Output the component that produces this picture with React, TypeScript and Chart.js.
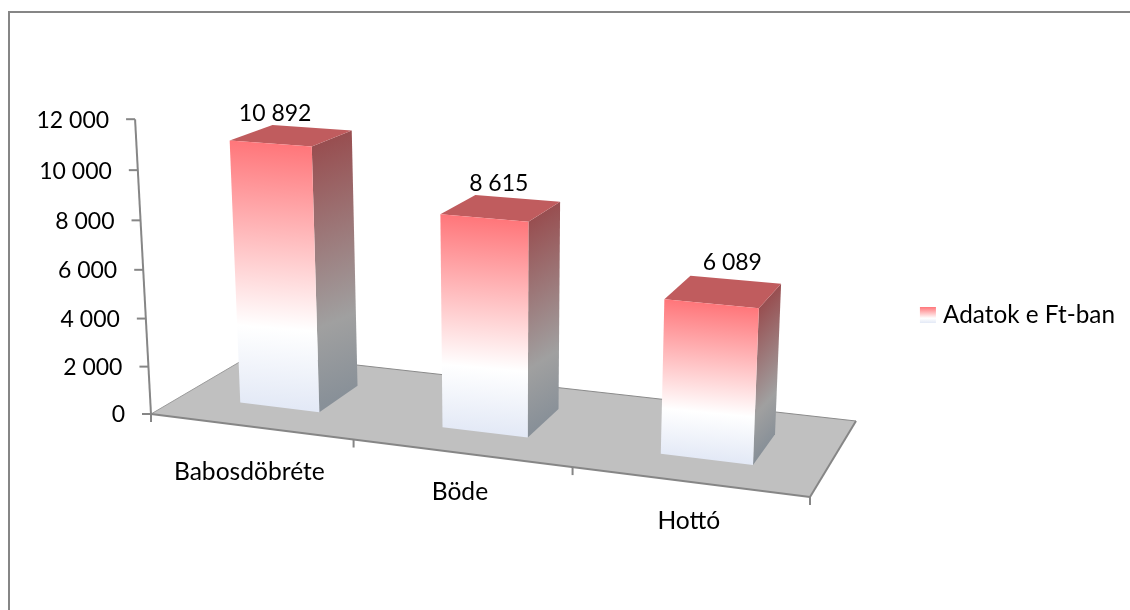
import React, { useEffect, useRef } from "react";
import { Chart, registerables } from "chart.js";

Chart.register(...registerables);

const categories = ["Babosdöbréte", "Böde", "Hottó"];
const values = [10892, 8615, 6089];
const seriesName = "Adatok e Ft-ban";
const axisMax = 12000;
const axisStep = 2000;

// ---- 3D projection set-up (layout only) ----
const FLOOR = { p0: [151, 414], p1: [810, 497], p2: [856, 421], p3: [254, 353.5] };
const VANISH = [508, 7020];
const HEIGHT_K = -3.56e-6;
const DEPTH_FRONT = 0.285;
const DEPTH_BACK = 0.7;
const LABEL_OFFSET = [[-37, -14], [-19, -15], [-3.5, -17]];
const CAT_OFFSET = [[-1, 46], [-1, 39], [0, 39]];
const FONT = "Lato, Carlito, sans-serif";
const FONT_SIZE = 23;
const CAT_FONT_SIZE = 24.6;
const LEGEND_FONT_SIZE = 24.3;
const GREY = "#868686";

type P = [number, number];

function makeProjector() {
  const [x0, y0] = FLOOR.p0, [x1, y1] = FLOOR.p1, [x2, y2] = FLOOR.p2, [x3, y3] = FLOOR.p3;
  const dx1 = x1 - x2, dx2 = x3 - x2, sx = x0 - x1 + x2 - x3;
  const dy1 = y1 - y2, dy2 = y3 - y2, sy = y0 - y1 + y2 - y3;
  const den = dx1 * dy2 - dx2 * dy1;
  const g = (sx * dy2 - dx2 * sy) / den;
  const h = (dx1 * sy - sx * dy1) / den;
  const a1 = x1 - x0 + g * x1, a2 = x3 - x0 + h * x3;
  const b1 = y1 - y0 + g * y1, b2 = y3 - y0 + h * y3;
  return (u: number, d: number, v: number): P => {
    const s = u / categories.length;
    const q = v * HEIGHT_K;
    const w = 1 + g * s + h * d + q;
    return [
      (a1 * s + a2 * d + x0 + q * VANISH[0]) / w,
      (b1 * s + b2 * d + y0 + q * VANISH[1]) / w,
    ];
  };
}

function poly(ctx: CanvasRenderingContext2D, pts: P[], fill: any) {
  ctx.beginPath();
  pts.forEach((p, i) => (i ? ctx.lineTo(p[0], p[1]) : ctx.moveTo(p[0], p[1])));
  ctx.closePath();
  ctx.fillStyle = fill;
  ctx.fill();
}

function seg(ctx: CanvasRenderingContext2D, a: P, b: P, color = GREY, lw = 2) {
  ctx.beginPath();
  ctx.moveTo(a[0], a[1]);
  ctx.lineTo(b[0], b[1]);
  ctx.strokeStyle = color;
  ctx.lineWidth = lw;
  ctx.stroke();
}

function faceGradient(ctx: CanvasRenderingContext2D, ta: P, tb: P, ba: P, bb: P, stops: [number, string][]) {
  const mt: P = [(ta[0] + tb[0]) / 2, (ta[1] + tb[1]) / 2];
  const mb: P = [(ba[0] + bb[0]) / 2, (ba[1] + bb[1]) / 2];
  const ex = tb[0] - ta[0], ey = tb[1] - ta[1];
  const L = Math.hypot(ex, ey) || 1;
  let nx = -ey / L, ny = ex / L;
  if (ny < 0) { nx = -nx; ny = -ny; }
  const len = (mb[0] - mt[0]) * nx + (mb[1] - mt[1]) * ny;
  const gr = ctx.createLinearGradient(mt[0], mt[1], mt[0] + nx * len, mt[1] + ny * len);
  stops.forEach(([o, c]) => gr.addColorStop(o, c));
  return gr;
}

const FRONT_STOPS: [number, string][] = [[0, "#FF767A"], [0.7, "#FFFFFF"], [1, "#E3E9F6"]];
const SIDE_STOPS: [number, string][] = [[0, "#984E50"], [0.7, "#A0A0A0"], [1, "#889098"]];

const scene3d = {
  id: "scene3d",
  beforeDatasetsDraw(chart: any) {
    const ctx = chart.ctx as CanvasRenderingContext2D;
    const project = makeProjector();
    const n = categories.length;
    ctx.save();
    // frame
    ctx.beginPath();
    ctx.moveTo(9, 610);
    ctx.lineTo(9, 12);
    ctx.lineTo(1130, 12);
    ctx.strokeStyle = GREY;
    ctx.lineWidth = 2;
    ctx.stroke();
    // floor
    const c0 = project(0, 0, 0), c1 = project(n, 0, 0), c2 = project(n, 1, 0), c3 = project(0, 1, 0);
    poly(ctx, [c0, c1, c2, c3], "#C0C0C0");
    seg(ctx, c0, c3, "#9A9A9A", 1);
    seg(ctx, c3, c2, "#8A8A8A", 1);
    seg(ctx, c1, c2, GREY, 2);
    seg(ctx, c0, c1, GREY, 2);
    // category ticks
    for (let i = 0; i <= n; i++) {
      const p = project(i, 0, 0);
      seg(ctx, [p[0], p[1]], [p[0], p[1] + 8]);
    }
    // value axis
    const yScale = chart.scales.y;
    seg(ctx, project(0, 0, 0), project(0, 0, axisMax));
    ctx.font = `${FONT_SIZE}px ${FONT}`;
    ctx.fillStyle = "#000";
    ctx.textAlign = "right";
    ctx.textBaseline = "middle";
    yScale.ticks.forEach((t: any) => {
      const p = project(0, 0, t.value);
      seg(ctx, [p[0] - 9, p[1]], p);
      ctx.fillText(fmt(t.value), p[0] - 26, p[1] + 1);
    });
    // category labels
    ctx.font = `${CAT_FONT_SIZE}px ${FONT}`;
    ctx.textAlign = "center";
    categories.forEach((c, i) => {
      const p = project(i + 0.5, 0, 0);
      ctx.fillText(c, p[0] + CAT_OFFSET[i][0], p[1] + CAT_OFFSET[i][1]);
    });
    ctx.restore();
  },
  afterDatasetsDraw(chart: any) {
    const ctx = chart.ctx as CanvasRenderingContext2D;
    const project = makeProjector();
    const meta = chart.getDatasetMeta(0);
    const xs = chart.scales.x, ys = chart.scales.y;
    ctx.save();
    meta.data.forEach((el: any, i: number) => {
      const perCat = xs.width / categories.length;
      const uc = (el.x - xs.left) / perCat;
      const hw = el.width / perCat / 2;
      const v = ys.getValueForPixel(el.y);
      const u0 = uc - hw, u1 = uc + hw;
      const fl = project(u0, DEPTH_FRONT, 0), fr = project(u1, DEPTH_FRONT, 0), br = project(u1, DEPTH_BACK, 0);
      const tl = project(u0, DEPTH_FRONT, v), tr = project(u1, DEPTH_FRONT, v);
      const tbr = project(u1, DEPTH_BACK, v), tbl = project(u0, DEPTH_BACK, v);
      poly(ctx, [tr, tbr, br, fr], faceGradient(ctx, tr, tbr, fr, br, SIDE_STOPS));
      poly(ctx, [tl, tr, tbr, tbl], "#C05C5E");
      poly(ctx, [tl, tr, fr, fl], faceGradient(ctx, tl, tr, fl, fr, FRONT_STOPS));
      // data label
      const m: P = [(tbl[0] + tbr[0]) / 2, (tbl[1] + tbr[1]) / 2];
      ctx.font = `${FONT_SIZE}px ${FONT}`;
      ctx.fillStyle = "#000";
      ctx.textAlign = "center";
      ctx.textBaseline = "middle";
      ctx.fillText(fmt(values[i]), m[0] + LABEL_OFFSET[i][0], m[1] + LABEL_OFFSET[i][1]);
    });
    ctx.restore();
  },
  afterDraw(chart: any) {
    // legend swatch: 16px square drawn over the legend's reserved box
    const box = chart.legend?.legendHitBoxes?.[0];
    if (!box) return;
    const ctx = chart.ctx as CanvasRenderingContext2D;
    const top = Math.round(box.top + box.height / 2 - 8);
    const gr = ctx.createLinearGradient(0, top, 0, top + 16);
    FRONT_STOPS.forEach(([o, c]) => gr.addColorStop(o, c));
    ctx.save();
    ctx.fillStyle = gr;
    ctx.fillRect(box.left, top, 16, 16);
    ctx.restore();
  },
};

function fmt(v: number) {
  return String(v).replace(/\B(?=(\d{3})+$)/g, " ");
}

export default function App() {
  const ref = useRef<HTMLCanvasElement>(null);
  useEffect(() => {
    const canvas = ref.current!;
    const chart = new Chart(canvas, {
      type: "bar",
      data: {
        labels: categories,
        datasets: [{
          label: seriesName,
          data: values,
          backgroundColor: "rgba(0,0,0,0)",
          barPercentage: 0.4,
          categoryPercentage: 1,
        }],
      },
      options: {
        responsive: false,
        animation: false,
        layout: { padding: { top: 20, right: 5 } },
        scales: {
          x: { display: false },
          y: { display: false, min: 0, max: axisMax, ticks: { stepSize: axisStep } },
        },
        plugins: {
          tooltip: { enabled: false },
          legend: {
            display: true,
            position: "right",
            labels: {
              color: "#000",
              boxWidth: 11,
              boxHeight: 16,
              font: { family: FONT, size: LEGEND_FONT_SIZE },
              generateLabels: () => [{ text: seriesName, fillStyle: "rgba(0,0,0,0)", strokeStyle: "rgba(0,0,0,0)", lineWidth: 0, datasetIndex: 0 }],
            },
          },
        },
      },
      plugins: [scene3d],
    } as any);
    return () => chart.destroy();
  }, []);
  return (
    <div style={{ position: "fixed", left: 0, top: 0, width: 1130, height: 610, background: "#fff" }}>
      <canvas ref={ref} width={1130} height={610} style={{ display: "block" }} />
    </div>
  );
}
